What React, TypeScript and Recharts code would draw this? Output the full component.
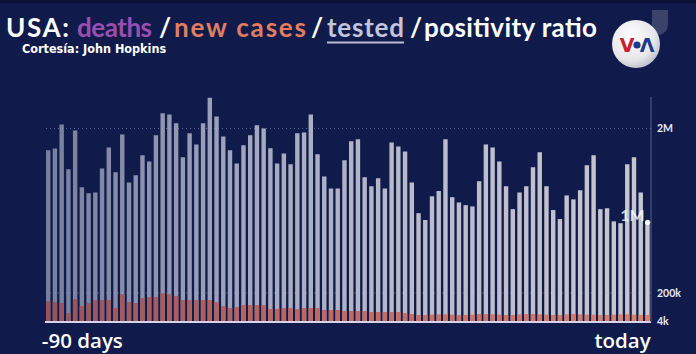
import React from 'react';
import { BarChart, Bar, XAxis, YAxis, ReferenceLine, ReferenceDot } from 'recharts';

// 90 days, first = "-90 days", last = "today"
const days: string[] = Array.from({ length: 90 }, (_, i) =>
  i === 0 ? '-90 days' : i === 89 ? 'today' : `${i - 90}`
);

// daily tests
const tested: number[] = [
  1730000, 1750000, 2050000, 1500000, 1975000, 1290000, 1220000, 1230000, 1510000, 1765000,
  1465000, 1925000, 1345000, 1430000, 1670000, 1595000, 1915000, 2190000, 2175000, 2065000,
  1645000, 1940000, 1800000, 2065000, 2390000, 2150000, 1900000, 1730000, 1570000, 1790000,
  1915000, 2040000, 2000000, 1755000, 1570000, 1690000, 1560000, 1940000, 1950000, 2175000,
  1680000, 1415000, 1275000, 1275000, 1610000, 1840000, 1865000, 1405000, 1300000, 1395000,
  1275000, 1825000, 1775000, 1715000, 1345000, 995000, 920000, 1185000, 1245000, 1865000,
  1175000, 1115000, 1085000, 1070000, 1360000, 1800000, 1765000, 1595000, 1300000, 1040000,
  1230000, 1300000, 1525000, 1705000, 1300000, 1030000, 930000, 1195000, 1150000, 1255000,
  1550000, 1670000, 1040000, 1050000, 905000, 885000, 1560000, 1645000, 1230000, 895000,
];

// daily new cases
const newCases: number[] = [
  135000, 127000, 120000, 48000, 151000, 97000, 120000, 143000, 143000, 143000,
  83000, 191000, 127000, 120000, 159000, 167000, 167000, 200000, 191000, 175000,
  143000, 143000, 143000, 143000, 143000, 127000, 97000, 83000, 90000, 105000,
  105000, 105000, 105000, 76000, 76000, 83000, 83000, 76000, 83000, 83000,
  83000, 69000, 69000, 69000, 62000, 62000, 62000, 62000, 55000, 55000,
  55000, 55000, 55000, 48000, 42000, 36000, 36000, 38000, 40000, 40000,
  38000, 36000, 36000, 38000, 42000, 42000, 40000, 38000, 36000, 36000,
  40000, 42000, 42000, 40000, 38000, 36000, 36000, 40000, 42000, 40000,
  38000, 38000, 36000, 36000, 38000, 40000, 40000, 38000, 36000, 36000,
];

const yTicks: number[] = [4000, 200000, 2000000];
const yTickLabels: string[] = ['4k', '200k', '2M'];
const lastLabel = '1M';

const data = days.map((day, i) => ({ day, tested: tested[i], cases: newCases[i] }));

// power scale (d3-like) used for the value axis
function powScale(exponent: number, dom: number[] = [0, 1], rng: number[] = [0, 1]): any {
  let d = dom.slice();
  let r = rng.slice();
  const t = (v: number) => Math.sign(v) * Math.pow(Math.abs(v), exponent);
  const s: any = (v: number) => {
    const d0 = t(Number(d[0]));
    const d1 = t(Number(d[d.length - 1]));
    if (d1 === d0) return (r[0] + r[1]) / 2;
    return r[0] + ((t(Number(v)) - d0) / (d1 - d0)) * (r[r.length - 1] - r[0]);
  };
  s.domain = (x?: any) => {
    if (x === undefined) return d.slice();
    d = Array.from(x).map(Number);
    return s;
  };
  s.range = (x?: any) => {
    if (x === undefined) return r.slice();
    r = Array.from(x).map(Number);
    return s;
  };
  s.rangeRound = (x?: any) => s.range(x);
  s.copy = () => powScale(exponent, d, r);
  s.invert = (y: number) => {
    const d0 = t(d[0]);
    const d1 = t(d[d.length - 1]);
    const k = (y - r[0]) / (r[r.length - 1] - r[0]);
    const tv = d0 + k * (d1 - d0);
    return Math.sign(tv) * Math.pow(Math.abs(tv), 1 / exponent);
  };
  s.ticks = (n: number = 10) => {
    const a = Math.min(d[0], d[d.length - 1]);
    const b = Math.max(d[0], d[d.length - 1]);
    const raw = (b - a) / Math.max(1, n);
    const p = Math.pow(10, Math.floor(Math.log10(raw || 1)));
    const m = raw / p;
    const step = (m >= 5 ? 10 : m >= 2 ? 5 : m >= 1 ? 2 : 1) * p;
    const out: number[] = [];
    for (let v = Math.ceil(a / step) * step; v <= b + 1e-9; v += step) out.push(v);
    return out;
  };
  s.tickFormat = () => (v: number) => String(v);
  s.nice = () => s;
  s.clamp = () => s;
  s.exponent = () => exponent;
  return s;
}

const yScale = powScale(0.825);

const BG = '#101b4b';

const XTick = (props: any) => {
  const { x, y, payload } = props;
  const isFirst = payload.value === days[0];
  return (
    <text
      x={isFirst ? x - 6.5 : x + 3}
      y={y + 26}
      textAnchor={isFirst ? 'start' : 'end'}
      fill="#ffffff"
      fontSize={20.5}
      fontWeight={600}
      fontFamily="'Open Sans', sans-serif"
    >
      {payload.value}
    </text>
  );
};

const DotLabel = (props: any) => {
  const vb = props.viewBox || {};
  return (
    <text
      x={vb.x - 0.5}
      y={vb.y + 1}
      textAnchor="end"
      fill="#ffffff"
      fillOpacity={0.75}
      fontSize={16}
      fontWeight={700}
      fontFamily="Lato, sans-serif"
    >
      {lastLabel}
    </text>
  );
};

export default function App() {
  return (
    <div style={{ position: 'absolute', left: 0, top: 0, width: 696, height: 354, background: BG, overflow: 'hidden' }}>
      <div style={{ position: 'absolute', left: 0, top: 0, width: 696, height: 3, background: '#0a1236' }} />
      <div style={{ position: 'absolute', left: 0, top: 0 }}>
        <BarChart
          width={696}
          height={354}
          data={data}
          margin={{ top: 97, right: 0, bottom: 31, left: 45 }}
        >
          <defs>
            <linearGradient id="testedGrad" gradientUnits="userSpaceOnUse" x1={45} y1={0} x2={651} y2={0}>
              <stop offset="0%" stopColor="#767e9d" />
              <stop offset="35%" stopColor="#a4a9c0" />
              <stop offset="60%" stopColor="#b9bbc9" />
              <stop offset="100%" stopColor="#c7c7cf" />
            </linearGradient>
            <linearGradient id="casesGrad" gradientUnits="userSpaceOnUse" x1={45} y1={0} x2={651} y2={0}>
              <stop offset="0%" stopColor="#95535c" />
              <stop offset="40%" stopColor="#bf655f" />
              <stop offset="100%" stopColor="#de7f6c" />
            </linearGradient>
          </defs>
          <XAxis
            xAxisId="t"
            dataKey="day"
            type="category"
            height={1}
            ticks={[days[0], days[days.length - 1]]}
            interval={0}
            tickLine={false}
            tickSize={0}
            tickMargin={0}
            axisLine={{ stroke: '#d9d3ea', strokeWidth: 2 }}
            tick={<XTick />}
          />
          <XAxis xAxisId="c" dataKey="day" type="category" height={0} hide />
          <YAxis
            orientation="right"
            type="number"
            width={45}
            domain={[0, 2400000]}
            scale={yScale}
            ticks={yTicks}
            interval={0}
            tickLine={false}
            tickMargin={0}
            tickSize={6}
            axisLine={{ stroke: '#5a6189', strokeWidth: 1 }}
            tickFormatter={(v: number) => yTickLabels[yTicks.indexOf(v)]}
            tick={{ fill: '#e8e8f2', fontSize: 10.5, fontWeight: 700, fontFamily: 'Lato, sans-serif' }}
          />
          <ReferenceLine xAxisId="t" y={2000000} stroke="#aab0cc" strokeOpacity={0.55} strokeDasharray="1 3" />
          <ReferenceLine xAxisId="t" y={200000} stroke="#aab0cc" strokeOpacity={0.45} strokeDasharray="1 3" />
          <Bar xAxisId="t" dataKey="tested" fill="url(#testedGrad)" barSize={4.4} isAnimationActive={false} />
          <Bar xAxisId="c" dataKey="cases" fill="url(#casesGrad)" barSize={4.4} isAnimationActive={false} />
          <ReferenceDot
            xAxisId="t"
            x={days[days.length - 1]}
            y={tested[tested.length - 1]}
            r={2.6}
            fill="#ffffff"
            stroke="none"
            label={<DotLabel />}
          />
        </BarChart>
      </div>
      <svg width={696} height={80} style={{ position: 'absolute', left: 0, top: 0 }}>
        <defs>
          <radialGradient id="voaG" cx="40%" cy="35%" r="70%">
            <stop offset="0%" stopColor="#ffffff" />
            <stop offset="70%" stopColor="#e6e6ea" />
            <stop offset="100%" stopColor="#b9bcc6" />
          </radialGradient>
        </defs>
        <g fontFamily="Lato, sans-serif" fontSize={26} fontWeight={700}>
          <text x={6} y={37} fill="#ffffff" textLength={63} lengthAdjust="spacing">USA:</text>
          <text x={77} y={37} fill="#9a4fb0" textLength={75} lengthAdjust="spacing">deaths</text>
          <text x={159} y={37} fill="#ffffff">/</text>
          <text x={174} y={37} fill="#e27d62" textLength={132} lengthAdjust="spacing">new cases</text>
          <text x={311} y={37} fill="#ffffff">/</text>
          <text x={327} y={37} fill="#c3c4dc" textLength={77} lengthAdjust="spacing">tested</text>
          <text x={410} y={37} fill="#ffffff">/</text>
          <text x={424} y={37} fill="#ffffff" textLength={173} lengthAdjust="spacing">positivity ratio</text>
        </g>
        <line x1={327} x2={404} y1={42.5} y2={42.5} stroke="#b9bbd8" strokeWidth={2} />
        <text
          x={22}
          y={53}
          fill="#ffffff"
          fontSize={12.5}
          fontWeight={700}
          fontFamily="'DejaVu Sans Condensed', 'Liberation Sans Narrow', 'DejaVu Sans', sans-serif"
          style={{ fontStretch: 'condensed' }}
        >
          Cortesía: John Hopkins
        </text>
        <path d="M652 10 L668 10 L668 24 Q668 32 660 35 Q652 32 652 24 Z" fill="#8b90a8" fillOpacity={0.35} />
        <circle cx={636} cy={44} r={24} fill="url(#voaG)" />
        <text x={627} y={52} textAnchor="middle" fontSize={19} fontWeight={700} fill="#c8202f" fontFamily="'DejaVu Sans', sans-serif">V</text>
        <circle cx={637} cy={45} r={3.6} fill="#1d3a8a" />
        <text x={647} y={52} textAnchor="middle" fontSize={19} fontWeight={700} fill="#1d3a8a" fontFamily="'DejaVu Sans', sans-serif">Λ</text>
      </svg>
    </div>
  );
}
